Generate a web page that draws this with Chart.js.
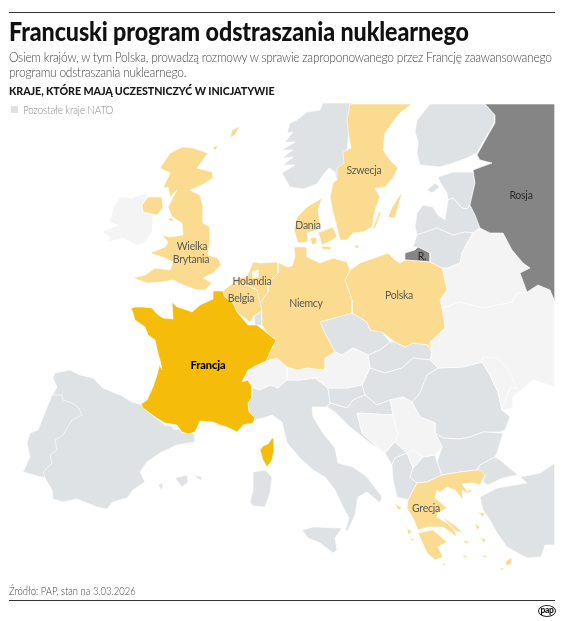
<!DOCTYPE html>
<html lang="pl"><head><meta charset="utf-8">
<script src="https://cdn.jsdelivr.net/npm/chart.js@4"></script>
<style>
html,body{margin:0;padding:0;background:#fff;width:564px;height:621px;overflow:hidden;font-family:Lato,"Noto Sans",sans-serif}
#c{position:absolute;left:0;top:0}
.t{position:absolute;white-space:nowrap;line-height:1;transform-origin:0 50%}
.rule{position:absolute;left:9px;width:546px;height:1px;background:#333}
#ttl{left:9px;top:18px;font-size:26px;font-weight:900;color:#111;letter-spacing:-.1px;transform:scaleX(.895)}
.sub{left:9px;font-size:13.8px;font-weight:300;color:#444;letter-spacing:-.28px;transform:scaleX(.867)}
#hd{left:9px;top:85px;font-size:12px;font-weight:900;color:#1a1a1a;letter-spacing:-.1px;transform:scaleX(.89)}
#sq{position:absolute;left:11px;top:106px;width:7px;height:7px;background:#dfe2e5}
#lg{left:23px;top:104px;font-size:11px;font-weight:300;color:#8c8c8c;letter-spacing:-.1px;transform:scaleX(.89)}
#src{left:9px;top:585px;font-size:11.5px;font-weight:300;color:#444;transform:scaleX(.82)}
#pap{position:absolute;left:538px;top:605px;width:16px;height:10px;border:1.2px solid #222;border-radius:50%;font:900 8.5px/9px Lato,sans-serif;text-align:center;color:#111;letter-spacing:-.3px}
</style></head><body>
<canvas id="c" width="564" height="621"></canvas>
<div class="rule" style="top:12px"></div>
<div class="t" id="ttl">Francuski program odstraszania nuklearnego</div>
<div class="t sub" style="top:50px">Osiem krajów, w tym Polska, prowadzą rozmowy w sprawie zaproponowanego przez Francję zaawansowanego</div>
<div class="t sub" style="top:65px">programu odstraszania nuklearnego.</div>
<div class="t" id="hd">KRAJE, KTÓRE MAJĄ UCZESTNICZYĆ W INICJATYWIE</div>
<div id="sq"></div><div class="t" id="lg">Pozostałe kraje NATO</div>
<div class="t" id="src">Źródło: PAP, stan na 3.03.2026</div>
<div class="rule" style="top:600px"></div>
<div id="pap">pap</div>
<script>
const francja=[[[131,308],[135,307],[143,307],[152,308],[157,314],[163,318],[173,319],[172,302],[177,307],[187,310],[192,312],[200,305],[213,299],[213,291],[223,291],[224,296],[233,303],[237,312],[248,325],[257,325],[267,333],[276,340],[272,348],[266,361],[257,365],[248,370],[242,382],[248,380],[252,387],[252,397],[248,403],[249,412],[255,418],[253,423],[243,425],[237,432],[227,427],[220,425],[213,422],[200,421],[195,432],[188,434],[182,432],[177,425],[165,423],[155,417],[143,408],[141,404],[147,400],[153,387],[157,375],[160,363],[155,340],[148,335],[145,327],[135,320],[133,313]],[[260,450],[263,446],[268,444],[272,438],[274,439],[274,450],[272,460],[267,467],[263,460]]];
const hiszpania=[[[55,373],[70,370],[80,375],[93,378],[103,388],[120,395],[132,402],[142,405],[155,418],[165,425],[177,427],[182,433],[195,434],[195,442],[177,445],[160,453],[147,462],[140,472],[145,482],[133,490],[127,498],[113,502],[107,509],[97,507],[77,499],[63,502],[53,499],[52,490],[45,478],[23,472],[30,457],[27,443],[30,433],[38,430],[50,400],[57,387],[53,378]],[[175,478],[187,475],[188,482],[182,487]],[[195,475],[202,477],[202,481],[197,478]],[[158,485],[163,483],[162,490]]];
const portugalia=[[[23,472],[30,457],[27,443],[30,433],[38,430],[50,400],[52,395],[62,395],[63,400],[72,403],[78,407],[82,415],[72,420],[63,435],[55,440],[57,450],[50,455],[52,463],[43,472],[45,478]]];
const andora=[[[172,425],[177,424],[177,430],[173,429]]];
const norwegia=[[[352,103],[323,103],[320,110],[307,112],[297,120],[290,123],[287,133],[293,132],[285,142],[295,142],[282,150],[293,150],[282,158],[293,157],[283,165],[295,165],[282,173],[290,187],[303,189],[317,184],[323,175],[329,168],[335,172],[336,180],[345,170]]];
const szwecja=[[[350,104],[412,104],[400,113],[392,123],[385,133],[383,150],[390,160],[398,168],[393,178],[385,187],[375,188],[380,197],[375,210],[372,227],[363,232],[353,233],[347,240],[340,240],[337,227],[333,213],[330,197],[333,183],[336,180],[337,168],[344,163],[343,152],[351,148],[349,137],[347,120]],[[388,217],[392,207],[400,195],[402,194],[400,200],[395,218]],[[373,228],[379,212],[381,212],[375,229]]];
const finlandia=[[[430,104],[485,104],[495,115],[494,123],[483,142],[477,153],[467,158],[453,163],[440,167],[420,165],[417,153],[418,142],[415,132],[417,120]]];
const rosja=[[[485,104],[555,104],[555,302],[550,290],[538,285],[527,292],[520,273],[530,268],[523,263],[512,250],[503,233],[490,233],[480,228],[475,215],[470,205],[475,183],[473,170],[492,163],[480,160],[477,155],[487,137],[495,123],[495,115]],[[405,253],[415,250],[418,247],[430,253],[430,262],[405,260]]];
const estonia=[[[438,177],[453,172],[473,172],[475,183],[470,205],[467,209],[462,208],[453,198],[448,200],[447,193],[440,182]],[[427,190],[435,183],[440,187],[432,193]]];
const lotwa=[[[415,227],[417,213],[423,205],[433,207],[438,215],[445,220],[448,200],[453,198],[462,208],[467,209],[470,205],[475,215],[480,228],[473,233],[465,232],[453,235],[437,228],[417,235]]];
const litwa=[[[417,235],[437,228],[453,235],[465,232],[473,233],[467,243],[462,253],[460,263],[448,268],[442,268],[430,262],[430,253],[418,247],[413,247]]];
const polska=[[[350,270],[360,263],[377,257],[388,253],[395,260],[400,263],[405,260],[430,262],[442,268],[447,290],[440,300],[442,308],[445,328],[430,342],[432,352],[428,345],[413,343],[405,347],[395,342],[382,332],[370,330],[367,322],[352,313],[352,300],[345,280]]];
const niemcy=[[[278,262],[287,267],[292,266],[295,257],[294,247],[307,247],[307,257],[320,263],[333,258],[347,262],[350,270],[345,280],[352,300],[352,313],[320,322],[325,333],[335,352],[325,358],[325,370],[307,368],[297,370],[287,367],[277,358],[266,361],[272,348],[276,340],[267,333],[262,325],[262,311],[260,303],[268,292],[268,283],[278,273]]];
const holandia=[[[233,283],[237,278],[247,277],[253,262],[260,263],[278,262],[278,273],[268,283],[268,292],[260,303],[257,290],[247,285]]];
const belgia=[[[223,291],[233,283],[247,285],[257,290],[260,303],[262,311],[254,316],[250,322],[237,312],[233,303],[224,296]]];
const luksemburg=[[[254,316],[262,311],[262,325],[255,326]]];
const wielkaBrytania=[[[193,148],[208,153],[197,168],[212,172],[213,178],[202,185],[190,190],[200,195],[203,207],[203,223],[210,227],[210,240],[208,255],[218,258],[221,265],[213,273],[203,278],[212,283],[205,290],[197,290],[183,285],[173,280],[162,282],[147,283],[133,278],[145,275],[155,268],[170,270],[173,262],[162,257],[150,253],[165,247],[168,242],[162,235],[170,237],[183,235],[182,223],[172,217],[168,207],[177,190],[170,197],[168,187],[163,188],[170,173],[160,168],[170,153],[182,147]],[[142,205],[148,197],[162,197],[163,208],[157,215],[143,212]],[[230,138],[232,130],[240,126],[235,135]],[[212,148],[218,145],[216,150]],[[167,220],[173,217],[173,222]]];
const irlandia=[[[120,197],[132,198],[140,195],[148,193],[142,205],[143,212],[153,215],[153,220],[152,232],[145,243],[137,245],[123,238],[108,242],[110,237],[102,232],[118,225],[110,222],[113,208]]];
const dania=[[[297,217],[307,207],[322,198],[318,210],[320,223],[317,230],[307,233],[308,242],[298,243],[294,230]],[[320,232],[333,227],[337,237],[332,240],[322,245],[318,232]],[[310,238],[317,237],[317,243],[312,245]],[[322,246],[332,247],[330,250],[322,249]],[[355,245],[359,245],[359,248],[355,248]]];
const czechy=[[[320,322],[352,313],[367,322],[370,330],[382,332],[390,342],[380,350],[368,355],[353,348],[342,355],[335,352],[325,333]]];
const slowacja=[[[390,342],[395,342],[405,347],[413,343],[428,345],[432,352],[430,360],[413,358],[402,368],[385,373],[370,368],[368,355],[380,350]]];
const wegry=[[[370,368],[385,373],[402,368],[413,358],[430,360],[438,368],[427,375],[420,393],[412,402],[403,397],[390,400],[377,405],[365,395],[362,385]]];
const austria=[[[325,358],[335,352],[342,355],[353,348],[368,355],[370,368],[362,385],[347,388],[328,388],[315,378],[300,380],[287,380],[287,367],[297,370],[307,368],[325,370]]];
const szwajcaria=[[[242,382],[248,370],[257,365],[266,361],[277,358],[287,367],[287,380],[278,388],[270,385],[260,390],[252,387],[248,380]]];
const wlochy=[[[252,387],[260,390],[270,385],[278,388],[287,380],[300,380],[315,378],[328,388],[330,403],[327,407],[312,407],[313,417],[323,433],[335,448],[338,463],[353,467],[367,477],[382,497],[380,503],[367,492],[358,497],[357,503],[355,515],[348,530],[345,532],[349,518],[342,505],[335,490],[325,477],[313,470],[300,458],[287,443],[282,422],[272,415],[263,418],[255,420],[249,412],[248,403],[252,397]],[[302,530],[313,527],[342,528],[335,538],[337,550],[333,553],[320,543],[308,538]],[[253,472],[265,470],[272,477],[270,493],[265,507],[253,506],[250,502],[253,490]]];
const slowenia=[[[328,388],[347,388],[362,385],[365,395],[353,400],[347,408],[330,403]]];
const chorwacja=[[[330,403],[347,408],[353,400],[365,395],[377,405],[390,400],[393,415],[357,413],[362,433],[383,452],[385,453],[370,443],[350,427],[335,412],[327,407]]];
const bosnia=[[[357,413],[393,415],[398,435],[395,442],[385,453],[383,452],[362,433]]];
const serbia=[[[390,400],[403,397],[412,402],[420,417],[435,423],[435,433],[442,447],[435,455],[423,457],[413,450],[407,453],[395,442],[398,435],[393,415]]];
const kosowo=[[[407,453],[413,450],[423,457],[413,468]]];
const czarnogora=[[[385,453],[395,442],[407,453],[395,458],[392,465]]];
const albania=[[[395,458],[407,453],[413,468],[410,477],[417,483],[408,500],[397,497],[393,480],[392,465]]];
const macedonia=[[[413,468],[423,457],[435,455],[437,462],[442,475],[427,482],[417,483],[410,477]]];
const grecja=[[[408,500],[417,483],[427,482],[442,475],[460,472],[477,470],[480,470],[485,475],[480,485],[473,483],[462,484],[470,495],[462,490],[463,500],[455,490],[447,487],[440,492],[443,495],[437,490],[435,498],[447,508],[438,513],[437,517],[453,527],[457,537],[443,527],[427,527],[418,530],[413,518],[407,508]],[[418,533],[433,530],[447,542],[438,547],[443,557],[435,560],[427,553]],[[443,517],[457,527],[463,533],[453,530]],[[478,512],[485,513],[483,517]],[[475,523],[480,527],[477,530]],[[505,562],[512,557],[512,563],[507,566]],[[395,503],[402,508],[398,510]],[[407,528],[412,532],[408,535]],[[410,537],[415,540],[412,541]],[[463,540],[470,542],[466,544]],[[480,538],[486,539],[484,543]],[[462,555],[468,556],[465,558]],[[482,555],[488,556],[484,558]],[[442,563],[446,564],[444,566]],[[466,490],[472,490],[470,493]],[[500,568],[504,568],[502,571]]];
const rumunia=[[[412,402],[420,393],[427,375],[438,368],[463,367],[482,362],[490,375],[498,392],[502,410],[510,417],[505,430],[500,432],[483,432],[470,437],[460,439],[443,438],[435,433],[435,423],[420,417]]];
const bulgaria=[[[435,433],[443,438],[460,439],[470,437],[483,432],[503,433],[497,453],[495,457],[480,465],[477,470],[460,472],[442,475],[437,462],[442,447]]];
const turcja=[[[477,470],[480,465],[495,457],[500,460],[518,475],[503,478],[488,485],[483,482],[485,475]],[[555,463],[555,545],[545,545],[541,557],[527,558],[507,547],[497,533],[490,520],[483,510],[480,497],[497,488],[527,483],[520,477],[540,473]]];
const ukraina=[[[442,308],[460,302],[483,308],[512,302],[517,293],[527,292],[538,285],[550,290],[555,302],[555,387],[533,380],[513,397],[513,408],[502,410],[498,392],[490,375],[482,362],[463,367],[438,368],[430,360],[432,352],[430,342],[445,328]]];
const bialorus=[[[442,268],[448,268],[460,263],[462,253],[467,243],[473,233],[480,228],[490,233],[503,233],[512,250],[523,263],[530,268],[520,273],[527,292],[517,293],[512,302],[483,308],[460,302],[442,308],[440,300],[447,290]]];
const moldawia=[[[483,357],[497,358],[507,368],[517,388],[510,388],[502,410],[498,392],[490,375],[482,362]]];
const wody=[[[252,272],[258,270],[258,277],[253,278]],[[157,352],[160,360],[162,370],[158,362]]];

const JASNY='#fbdb8f',ZLOTY='#f5bd09',NATO='#dfe2e5',RESZTA='#f4f4f5',CIEMNY='#858585',BIEL='#ffffff';
const warstwy=[
 [hiszpania,NATO],[portugalia,NATO],[andora,RESZTA],[norwegia,NATO],[finlandia,NATO],[estonia,NATO],[lotwa,NATO],[litwa,NATO],
 [czechy,NATO],[slowacja,NATO],[wegry,NATO],[wlochy,NATO],[slowenia,NATO],[chorwacja,NATO],[czarnogora,NATO],[albania,NATO],[macedonia,NATO],[rumunia,NATO],[bulgaria,NATO],[turcja,NATO],[luksemburg,NATO],
 [irlandia,RESZTA],[austria,RESZTA],[szwajcaria,RESZTA],[bosnia,RESZTA],[serbia,RESZTA],[kosowo,RESZTA],[ukraina,RESZTA],[bialorus,RESZTA],[moldawia,RESZTA],
 [rosja,CIEMNY],
 [szwecja,JASNY],[polska,JASNY],[niemcy,JASNY],[holandia,JASNY],[belgia,JASNY],[wielkaBrytania,JASNY],[dania,JASNY],[grecja,JASNY],
 [francja,ZLOTY],[wody,BIEL]
];
const etykiety=['Wielka','Brytania','Dania','Holandia','Belgia','Niemcy','Szwecja','Rosja','R.','Polska','Francja','Grecja'];
const etykietyX=[192,191,308,252,241,306,364,521,422,399,208,426];
const etykietyY=[247,260,226,282,299,304,171,196,257,296,365,509];

const punkty=cz=>cz.flatMap(p=>[...p.map(([x,y])=>({x,y})),{x:p[0][0],y:p[0][1]},{x:null,y:null}]);
const podpisy={id:'podpisy',afterDatasetsDraw(ch){
 const {ctx,scales:{x,y}}=ch;ctx.save();ctx.textAlign='center';ctx.textBaseline='middle';
 etykiety.forEach((t,i)=>{
  const b=t==='Francja';
  ctx.font=(b?'900 11px':'400 10.5px')+' Lato,sans-serif';
  ctx.letterSpacing=b?'-0.1px':'-0.25px';
  ctx.fillStyle=b?'#000':(t==='Rosja'||t==='R.')?'#2a2a2a':'#5a5a5a';
  ctx.fillText(t,x.getPixelForValue(etykietyX[i]),y.getPixelForValue(etykietyY[i]));
 });ctx.restore();}};
new Chart(document.getElementById('c'),{type:'scatter',
 data:{datasets:warstwy.map(([d,k],i)=>({data:punkty(d),showLine:true,fill:'shape',backgroundColor:k,borderColor:'#fff',borderWidth:.6,pointRadius:0,pointHoverRadius:0,tension:0,spanGaps:false,order:warstwy.length-i}))},
 options:{responsive:false,animation:false,events:[],layout:{padding:0},
  plugins:{legend:{display:false},tooltip:{enabled:false},title:{display:false}},
  scales:{x:{type:'linear',display:false,min:0,max:564},y:{type:'linear',display:false,min:0,max:621,reverse:true}}},
 plugins:[podpisy]});
</script>
</body></html>
